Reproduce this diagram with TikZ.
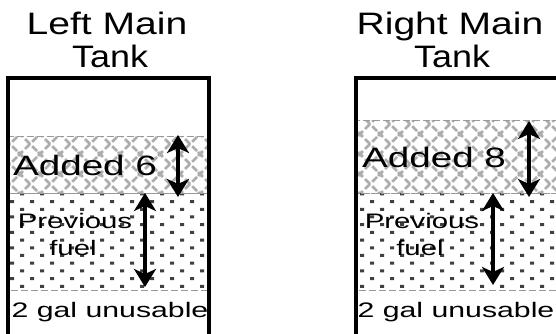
\documentclass[tikz,border=0pt]{standalone}
\usepackage{fontspec}
\setmainfont{Liberation Sans}
\usetikzlibrary{patterns,arrows.meta}
\pgfdeclarepatternformonly{tankdots}{\pgfpoint{-1pt}{-1pt}}{\pgfpoint{21pt}{16.4pt}}{\pgfpoint{20pt}{15.4pt}}{%
  \pgfpathrectangle{\pgfpoint{0pt}{0pt}}{\pgfpoint{4pt}{3pt}}%
  \pgfpathrectangle{\pgfpoint{10pt}{7.7pt}}{\pgfpoint{4pt}{3pt}}%
  \pgfusepath{fill}}
\pgfdeclarepatternformonly{tankcross}{\pgfpoint{-3pt}{-3pt}}{\pgfpoint{23pt}{23pt}}{\pgfpoint{20pt}{20pt}}{%
  \pgfsetlinewidth{2.8pt}%
  \pgfpathmoveto{\pgfpoint{-2pt}{-2pt}}\pgfpathlineto{\pgfpoint{22pt}{22pt}}%
  \pgfpathmoveto{\pgfpoint{-2pt}{22pt}}\pgfpathlineto{\pgfpoint{22pt}{-2pt}}%
  \pgfusepath{stroke}}
\newcommand{\wtxt}[2]{\scalebox{#1}[1]{#2}}
\begin{document}
\begin{tikzpicture}[x=1pt,y=-1pt,
  title/.style={inner sep=0pt,anchor=base,font=\fontsize{31}{31}\selectfont},
  big/.style={inner sep=0pt,anchor=base,font=\fontsize{28}{28}\selectfont},
  small/.style={inner sep=0pt,anchor=base,font=\fontsize{21}{21}\selectfont},
  wall/.style={line width=3.4pt,black},
  added/.style={pattern=tankcross,pattern color=black!32,draw=gray!80,dash pattern=on 7pt off 3pt,line width=1pt},
  prev/.style={pattern=tankdots,pattern color=black!75,draw=gray!80,dash pattern=on 7pt off 3pt,line width=1pt},
  dim/.style={line width=3.6pt,{Stealth[width=22pt,length=18pt,inset=5pt]}-{Stealth[width=22pt,length=18pt,inset=5pt]}}]
\useasboundingbox (0,0) rectangle (556,334);
\clip (0,0) rectangle (556,334);
% titles
\node[title] (lt1) at (107,35) {\wtxt{1.26}{Left Main}};
\node[title] (lt2) at (110,68) {\wtxt{1.16}{Tank}};
\node[title] (rt1) at (450,35) {\wtxt{1.26}{Right Main}};
\node[title] (rt2) at (452,68) {\wtxt{1.16}{Tank}};
% left tank fuel layers
\path[added] (8,136) rectangle (209,193);
\path[prev] (8,193) rectangle (209,290);
% right tank fuel layers
\path[added] (356,120) rectangle (560,193);
\path[prev] (356,193) rectangle (560,290);
% walls
\draw[wall] (8,340) -- (8,78) -- (209,78) -- (209,340);
\draw[wall] (356,340) -- (356,78) -- (560,78);
% texts
\node[big] (la) at (85,175) {\wtxt{1.38}{Added 6}};
\node[big] (ra) at (434,167) {\wtxt{1.38}{Added 8}};
\node[small] (lp1) at (75,228) {\wtxt{1.4}{Previous}};
\node[small] (lp2) at (73,255) {\wtxt{1.4}{fuel}};
\node[small] (rp1) at (422,228) {\wtxt{1.4}{Previous}};
\node[small] (rp2) at (420,255) {\wtxt{1.4}{fuel}};
\node[small] (lu) at (110,317) {\wtxt{1.44}{2 gal unusable}};
\node[small] (ru) at (456,317) {\wtxt{1.44}{2 gal unusable}};
% arrows
\coordinate (la1) at (178,135);
\coordinate (la2) at (178,197);
\coordinate (lp1a) at (145,193);
\coordinate (lp2a) at (145,287);
\coordinate (ra1) at (529,121);
\coordinate (ra2) at (529,197);
\coordinate (rp1a) at (493,193);
\coordinate (rp2a) at (493,285);
\draw[dim] (la1) -- (la2);
\draw[dim] (lp1a) -- (lp2a);
\draw[dim] (ra1) -- (ra2);
\draw[dim] (rp1a) -- (rp2a);
\end{tikzpicture}
\end{document}
